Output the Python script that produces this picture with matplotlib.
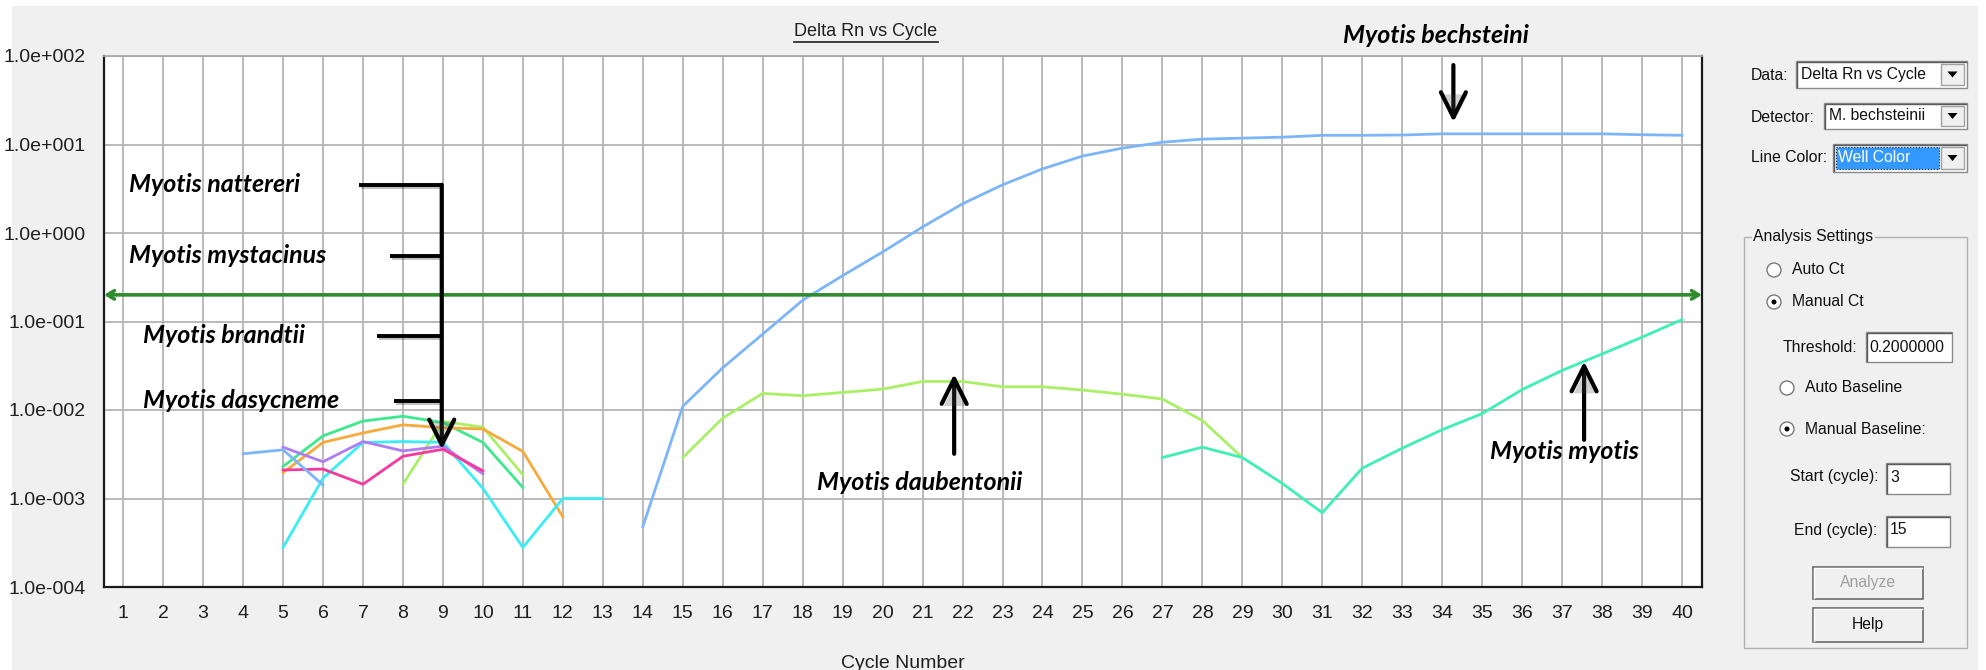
import numpy as np
import matplotlib
matplotlib.use("Agg")
import matplotlib.pyplot as plt
from matplotlib.patches import Rectangle, Circle, Polygon
import matplotlib.patheffects as pe

# ──────────────────────────────────────────────
# data
# ──────────────────────────────────────────────
xtick_vals   = list(range(1, 41))
ytick_vals   = [1e-4, 1e-3, 1e-2, 1e-1, 1e0, 1e1, 1e2]
ytick_labels = ["1.0e-004", "1.0e-003", "1.0e-002", "1.0e-001",
                "1.0e+000", "1.0e+001", "1.0e+002"]
threshold = 0.2

bech_early_cyc = [4, 5, 6]
bech_early     = [3.2e-3, 3.55e-3, 1.42e-3]
bech_cyc = list(range(14, 41))
bech     = [4.8e-4, 1.1e-2, 3.0e-2, 7.2e-2, 0.174, 0.33, 0.61, 1.17, 2.14,
            3.5, 5.3, 7.4, 9.1, 10.6, 11.5, 11.8, 12.1, 12.7, 12.7, 12.8,
            13.2, 13.2, 13.2, 13.2, 13.2, 12.9, 12.7]

cyan_cyc = list(range(5, 14))
cyan     = [2.8e-4, 1.7e-3, 4.3e-3, 4.4e-3, 4.3e-3, 1.3e-3, 2.8e-4, 1.0e-3, 1.0e-3]

teal_cyc = list(range(5, 12))
teal     = [2.3e-3, 5.1e-3, 7.5e-3, 8.5e-3, 7.2e-3, 4.3e-3, 1.33e-3]

orange_cyc = list(range(5, 13))
orange     = [1.96e-3, 4.3e-3, 5.5e-3, 6.8e-3, 6.3e-3, 6.1e-3, 3.4e-3, 6.2e-4]

purple_cyc = list(range(5, 11))
purple     = [3.8e-3, 2.6e-3, 4.4e-3, 3.45e-3, 3.9e-3, 1.9e-3]

magenta_cyc = list(range(5, 11))
magenta     = [2.1e-3, 2.15e-3, 1.45e-3, 3.0e-3, 3.6e-3, 2.05e-3]

lime_early_cyc = [8, 9, 10, 11]
lime_early     = [1.45e-3, 7.4e-3, 6.4e-3, 1.85e-3]

daub_cyc = list(range(15, 30))
daub     = [2.9e-3, 8.1e-3, 1.54e-2, 1.45e-2, 1.58e-2, 1.72e-2, 2.1e-2, 2.1e-2,
            1.83e-2, 1.83e-2, 1.68e-2, 1.51e-2, 1.33e-2, 7.6e-3, 2.9e-3]

myo_cyc = list(range(27, 41))
myo     = [2.9e-3, 3.8e-3, 2.9e-3, 1.48e-3, 6.9e-4, 2.2e-3, 3.7e-3, 6.0e-3,
           9.1e-3, 1.7e-2, 2.8e-2, 4.3e-2, 6.65e-2, 1.05e-1]

# ──────────────────────────────────────────────
# fonts / figure
# ──────────────────────────────────────────────
UI  = ["Liberation Sans", "DejaVu Sans"]
ANN = ["Lato", "Open Sans", "DejaVu Sans"]
W, H = 1986, 670

fig = plt.figure(figsize=(W / 100, H / 100), dpi=100, facecolor="white")

# background "window" layer, pixel coords with origin at top-left
bg = fig.add_axes([0, 0, 1, 1], zorder=0)
bg.set_xlim(0, W)
bg.set_ylim(H, 0)
bg.axis("off")
bg.add_patch(Rectangle((12, 6), 1966, 664, fc="#f0f0f0", ec="none"))

ax = fig.add_axes([104 / W, 1 - 587 / H, 1598 / W, 531 / H], zorder=2)
ax.set_facecolor("white")
ax.set_yscale("log")
ax.set_xlim(0.52, 40.5)
ax.set_ylim(1e-4, 1e2)

ax.set_xticks(xtick_vals)
ax.set_xticklabels([str(c) for c in xtick_vals])
ax.set_yticks(ytick_vals)
ax.set_yticklabels(ytick_labels)
ax.minorticks_off()
ax.tick_params(length=0, labelsize=14, colors="#202020")
ax.tick_params(axis="x", pad=13)
ax.tick_params(axis="y", pad=13)
for lab in ax.get_xticklabels() + ax.get_yticklabels():
    lab.set_family(UI)

ax.grid(True, color="#b4b4b4", linewidth=1.3)
ax.set_axisbelow(True)
for side in ["left", "bottom", "right"]:
    ax.spines[side].set_color("#1a1a1a")
    ax.spines[side].set_linewidth(1.6)
ax.spines["top"].set_color("#a8a8a8")
ax.spines["top"].set_linewidth(1.3)

ax.set_xlabel("Cycle Number", fontsize=14, family=UI, color="#202020", labelpad=24)

# ──────────────────────────────────────────────
# amplification curves
# ──────────────────────────────────────────────
lw = 2.0
ax.plot(lime_early_cyc, lime_early, color="#aaf066", lw=lw)
ax.plot(daub_cyc, daub, color="#aaf066", lw=lw)
ax.plot(teal_cyc, teal, color="#3ee88e", lw=lw)
ax.plot(orange_cyc, orange, color="#f7aa3a", lw=lw)
ax.plot(cyan_cyc, cyan, color="#38eef4", lw=lw)
ax.plot(purple_cyc, purple, color="#b07cf2", lw=lw)
ax.plot(magenta_cyc, magenta, color="#f8389e", lw=lw)
ax.plot(bech_early_cyc, bech_early, color="#7cb6f8", lw=lw)
ax.plot(bech_cyc, bech, color="#7cb6f8", lw=lw)
ax.plot(myo_cyc, myo, color="#3ef0b4", lw=lw)

# threshold line with arrow heads at both ends
ax.annotate("", xy=(0, threshold), xytext=(1, threshold),
            xycoords=("axes fraction", "data"), textcoords=("axes fraction", "data"),
            arrowprops=dict(arrowstyle="<->, head_length=0.5, head_width=0.3",
                            color="#2e8b2e", lw=2.6, shrinkA=0, shrinkB=0,
                            mutation_scale=10))

# ──────────────────────────────────────────────
# species annotations
# ──────────────────────────────────────────────
shadow = [pe.SimpleLineShadow(offset=(1.5, -1.5), alpha=0.25), pe.Normal()]
pshadow = [pe.SimplePatchShadow(offset=(1.5, -1.5), alpha=0.25), pe.Normal()]
ann_kw = dict(fontsize=18, family=ANN, fontweight="bold", style="italic", color="black")


def seg(x0, y0, x1, y1):
    ax.plot([x0, x1], [y0, y1], color="black", lw=2.8, solid_capstyle="butt",
            path_effects=shadow, clip_on=False, zorder=5)


def arrow(x, y_from, y_to):
    ax.annotate("", xy=(x, y_to), xytext=(x, y_from), annotation_clip=False,
                arrowprops=dict(arrowstyle="->, head_length=0.9, head_width=0.45",
                                color="black", lw=3.0, shrinkA=0, shrinkB=0,
                                mutation_scale=20, path_effects=pshadow),
                zorder=5)


bx = 8.97
seg(6.9, 3.5, bx, 3.5)
seg(7.68, 0.553, bx, 0.553)
seg(7.35, 0.069, bx, 0.069)
seg(7.78, 0.0128, bx, 0.0128)
arrow(bx, 3.5, 0.0036)

ax.text(1.15, 3.5, "Myotis nattereri", ha="left", va="center", **ann_kw)
ax.text(1.15, 0.553, "Myotis mystacinus", ha="left", va="center", **ann_kw)
ax.text(1.5, 0.069, "Myotis brandtii", ha="left", va="center", **ann_kw)
ax.text(1.5, 0.0128, "Myotis dasycneme", ha="left", va="center", **ann_kw)

ax.text(33.85, 172, "Myotis bechsteini", ha="center", va="center", clip_on=False, **ann_kw)
arrow(34.28, 79, 18)

ax.text(20.93, 0.0015, "Myotis daubentonii", ha="center", va="center", **ann_kw)
arrow(21.79, 0.0032, 0.0254)

ax.text(37.05, 0.00344, "Myotis myotis", ha="center", va="center", **ann_kw)
arrow(37.55, 0.0046, 0.0352)

# ──────────────────────────────────────────────
# chart title (underlined)
# ──────────────────────────────────────────────
title = bg.text(866, 32, "Delta Rn vs Cycle", ha="center", va="center",
                fontsize=13, family=UI, color="#202020")

# ──────────────────────────────────────────────
# right-hand settings panel
# ──────────────────────────────────────────────
FS = 11.3
ui_kw = dict(fontsize=FS, family=UI, color="#101010", va="center")


def box(x0, y0, x1, y1, fc="white"):
    bg.add_patch(Rectangle((x0, y0), x1 - x0, y1 - y0, fc=fc, ec="#8a8a8a", lw=1))
    bg.plot([x0 + 1, x0 + 1, x1 - 1], [y1 - 1, y0 + 1, y0 + 1], color="#5a5a5a", lw=1)


def combo(x0, y0, x1, y1, label, highlight=False):
    box(x0, y0, x1, y1)
    bx0 = x1 - 26
    bg.add_patch(Rectangle((bx0, y0 + 3), 23, y1 - y0 - 6, fc="#f0f0f0", ec="#a0a0a0", lw=1))
    cx, cy = bx0 + 11.5, (y0 + y1) / 2
    bg.add_patch(Polygon([[cx - 5, cy - 3], [cx + 5, cy - 3], [cx, cy + 3]], fc="black", ec="none"))
    color = "#101010"
    if highlight:
        bg.add_patch(Rectangle((x0 + 3, y0 + 3), bx0 - x0 - 5, y1 - y0 - 6, fc="#3399ff", ec="#1a1a1a",
                               lw=0.8, ls=":"))
        color = "white"
    bg.text(x0 + 5, (y0 + y1) / 2, label, fontsize=FS, family=UI, color=color, va="center")


def radio(x, y, checked):
    bg.add_patch(Circle((x, y), 7, fc="white", ec="#7a7a7a", lw=1))
    if checked:
        bg.add_patch(Circle((x, y), 2.5, fc="black", ec="none"))


def button(x0, y0, x1, y1, label, color):
    bg.add_patch(Rectangle((x0, y0), x1 - x0, y1 - y0, fc="#f0f0f0", ec="#6a6a6a", lw=1.2))
    bg.plot([x0 + 1, x0 + 1, x1 - 1], [y1 - 1, y0 + 1, y0 + 1], color="white", lw=1)
    bg.text((x0 + x1) / 2, (y0 + y1) / 2, label, ha="center", fontsize=FS, family=UI,
            color=color, va="center")


bg.text(1751, 76, "Data:", **ui_kw)
combo(1796, 61, 1967, 88, "Delta Rn vs Cycle")
bg.text(1751, 117, "Detector:", **ui_kw)
combo(1824, 103, 1967, 129, "M. bechsteinii")
bg.text(1751, 158, "Line Color:", **ui_kw)
combo(1833, 144, 1967, 172, "Well Color", highlight=True)

bg.add_patch(Rectangle((1744, 237), 223, 411, fc="none", ec="#b0b0b0", lw=1))
bg.text(1753, 237, "Analysis Settings", bbox=dict(fc="#f0f0f0", ec="none", pad=1), **ui_kw)

radio(1774, 270, False)
bg.text(1792, 270, "Auto Ct", **ui_kw)
radio(1774, 302, True)
bg.text(1792, 302, "Manual Ct", **ui_kw)

bg.text(1783, 347, "Threshold:", **ui_kw)
box(1866, 332, 1952, 362)
bg.text(1869, 347, "0.2000000", **ui_kw)

radio(1787, 388, False)
bg.text(1805, 388, "Auto Baseline", **ui_kw)
radio(1787, 429, True)
bg.text(1805, 429, "Manual Baseline:", **ui_kw)

bg.text(1790, 477, "Start (cycle):", **ui_kw)
box(1886, 463, 1950, 494)
bg.text(1890, 477, "3", **ui_kw)
bg.text(1794, 530, "End (cycle):", **ui_kw)
box(1886, 516, 1950, 547)
bg.text(1890, 530, "15", **ui_kw)

button(1813, 567, 1923, 599, "Analyze", "#a0a0a0")
button(1813, 608, 1923, 642, "Help", "#101010")

# underline for the title, measured from the rendered text
fig.canvas.draw()
bb = title.get_window_extent()
bg.plot([bb.x0, bb.x1], [H - bb.y0 + 1.5, H - bb.y0 + 1.5], color="#202020", lw=1.2)

fig.savefig("out.png", dpi=100, facecolor="white")
